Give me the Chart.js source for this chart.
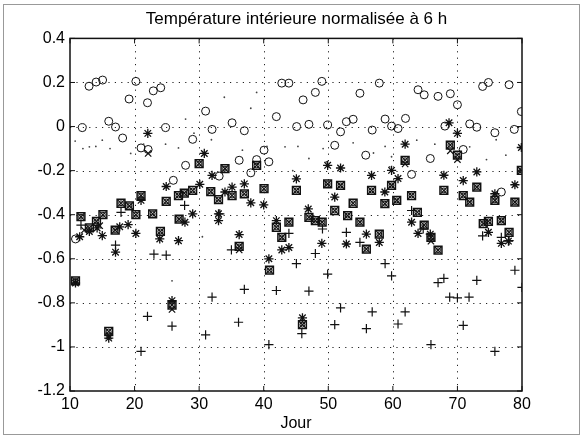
<!DOCTYPE html>
<html>
<head>
<meta charset="utf-8">
<script src="https://cdn.jsdelivr.net/npm/chart.js@4.4.0/dist/chart.umd.min.js"></script>
<style>
  html, body { margin: 0; padding: 0; background: #fff; }
  #wrap { width: 583px; height: 439px; }
</style>
</head>
<body>
<div id="wrap"><canvas id="graphe"></canvas></div>
<script>
const titre = 'Température intérieure normalisée à 6 h';
const titreX = 'Jour';
const ticksX = [10, 20, 30, 40, 50, 60, 70, 80];
const ticksY = [0.4, 0.2, 0, -0.2, -0.4, -0.6, -0.8, -1, -1.2];

// [jour, valeur]
const cercles = [
  [10.85, -0.51], [11.9, -0.005], [12.95, 0.183], [14.05, 0.202], [15.05, 0.211],
  [16.0, 0.024], [17.05, -0.002], [18.15, -0.052], [19.15, 0.125], [20.2, 0.205],
  [21.0, -0.097], [22.0, 0.108], [22.1, -0.104], [22.9, 0.162], [24.05, 0.176],
  [24.8, -0.005], [26.0, -0.244], [27.9, -0.176], [29.0, -0.058], [31.0, 0.07],
  [32.0, -0.013], [33.1, -0.225], [35.1, 0.017], [36.2, -0.153], [37.0, -0.019],
  [38.0, -0.21], [38.9, -0.15], [40.05, -0.107], [40.8, -0.16], [41.96, 0.045],
  [42.8, 0.197], [43.9, 0.197], [45.1, 0.0], [46.1, 0.121], [47.0, 0.01],
  [48.0, 0.155], [49.0, 0.205], [49.9, 0.007], [51.0, -0.085], [51.9, -0.024],
  [52.8, 0.022], [53.85, 0.033], [54.9, 0.151], [55.8, -0.13], [56.8, -0.016],
  [57.9, 0.197], [58.8, 0.034], [59.8, 0.002], [60.8, -0.009], [61.96, 0.037],
  [62.9, -0.217], [63.9, 0.167], [64.85, 0.144], [65.8, -0.145], [67.0, 0.137],
  [68.06, 0.002], [68.9, 0.149], [70.0, 0.099], [70.9, -0.104], [71.9, 0.012],
  [73.0, -0.003], [73.9, 0.182], [74.8, 0.2], [75.8, -0.028], [76.8, -0.297],
  [78.0, 0.19], [78.8, -0.013], [79.9, 0.068]
];

const carres = [
  [10.85, -0.70], [11.7, -0.409], [13.0, -0.46], [14.1, -0.43], [15.1, -0.40],
  [16.0, -0.93], [17.0, -0.47], [17.9, -0.348], [19.2, -0.36], [20.2, -0.40],
  [21.0, -0.313], [22.8, -0.396], [24.0, -0.476], [24.9, -0.34], [25.8, -0.81],
  [26.8, -0.313], [26.9, -0.42], [27.7, -0.302], [29.0, -0.29], [30.0, -0.168],
  [31.8, -0.295], [33.0, -0.332], [34.0, -0.191], [35.1, -0.313], [36.2, -0.544],
  [37.0, -0.305], [38.9, -0.176], [40.05, -0.282], [40.9, -0.652], [41.96, -0.457],
  [42.8, -0.503], [43.9, -0.434], [45.06, -0.29], [46.0, -0.899], [47.0, -0.412],
  [48.0, -0.427], [49.05, -0.434], [49.9, -0.26], [51.0, -0.381], [51.9, -0.267],
  [53.0, -0.404], [53.85, -0.348], [54.9, -0.434], [55.9, -0.556], [56.7, -0.29],
  [57.9, -0.488], [58.76, -0.35], [59.8, -0.267], [60.6, -0.335], [61.9, -0.153],
  [62.9, -0.313], [63.8, -0.389], [64.85, -0.447], [65.9, -0.503], [67.0, -0.561],
  [67.9, -0.29], [68.9, -0.084], [70.0, -0.13], [70.9, -0.313], [71.9, -0.343],
  [73.0, -0.275], [74.0, -0.44], [74.8, -0.43], [75.8, -0.335], [76.8, -0.427],
  [78.0, -0.48], [78.9, -0.343], [79.9, -0.199]
];

const etoiles = [
  [10.85, -0.71], [11.5, -0.5], [13.0, -0.476], [14.2, -0.46], [15.0, -0.495],
  [16.0, -0.96], [17.05, -0.57], [17.7, -0.455], [19.0, -0.445], [20.2, -0.485],
  [21.0, -0.335], [22.05, -0.031], [23.9, -0.51], [24.9, -0.272], [25.8, -0.79],
  [26.8, -0.518], [27.8, -0.434], [29.0, -0.396], [30.1, -0.262], [30.8, -0.122],
  [32.0, -0.222], [33.0, -0.396], [33.0, -0.427], [34.0, -0.297], [35.1, -0.275],
  [36.2, -0.49], [37.0, -0.26], [38.0, -0.346], [40.0, -0.355], [40.8, -0.6],
  [41.96, -0.427], [42.8, -0.56], [43.9, -0.549], [45.06, -0.237], [46.0, -0.868],
  [46.9, -0.374], [49.0, -0.53], [49.9, -0.176], [51.0, -0.32], [51.9, -0.188],
  [52.8, -0.533], [55.9, -0.488], [56.7, -0.222], [57.9, -0.526], [58.76, -0.297],
  [59.8, -0.199], [60.8, -0.236], [61.9, -0.08], [62.9, -0.434], [63.9, -0.485],
  [65.8, -0.488], [67.9, -0.221], [68.7, 0.017], [70.0, -0.031], [70.9, -0.245],
  [73.0, -0.206], [74.8, -0.48], [75.8, -0.305], [76.8, -0.53], [77.9, -0.52],
  [78.9, -0.264], [79.9, -0.095]
];

const plus = [
  [11.7, -0.447], [17.05, -0.538], [17.9, -0.389], [21.0, -1.02], [22.0, -0.861],
  [23.0, -0.579], [24.9, -0.583], [25.8, -0.906], [27.75, -0.358], [31.0, -0.945],
  [32.0, -0.774], [33.2, -0.396], [35.0, -0.56], [36.1, -0.888], [37.0, -0.739],
  [40.8, -0.99], [41.96, -0.744], [43.9, -0.485], [45.06, -0.622], [45.9, -0.94],
  [47.0, -0.747], [48.0, -0.576], [49.1, -0.465], [49.9, -0.67], [51.0, -0.899],
  [51.9, -0.823], [52.8, -0.48], [54.9, -0.526], [55.9, -0.917], [56.8, -0.841],
  [58.8, -0.622], [59.8, -0.678], [60.8, -0.896], [61.9, -0.841], [62.9, -0.381],
  [64.7, -0.465], [65.9, -0.99], [67.0, -0.708], [67.9, -0.689], [68.8, -0.774],
  [70.0, -0.777], [70.9, -0.902], [71.8, -0.774], [73.0, -0.698], [73.9, -0.496],
  [75.8, -1.02], [76.8, -0.503], [78.0, -0.518], [78.9, -0.652], [80.0, -0.73]
];

const croix = [
  [12.2, -0.47], [14.6, -0.45], [22.1, -0.122], [61.9, -0.17], [65.9, -0.52],
  [68.9, -0.11], [70.0, -0.15], [36.2, -0.56], [25.8, -0.83], [16.0, -0.95]
];

const pointsFins = [
  [10.8, -0.066], [12.0, -0.1], [13.0, -0.092], [14.0, -0.09], [15.0, -0.062],
  [16.2, -0.1], [19.4, -0.122], [21.4, -0.08], [24.8, -0.08], [26.8, -0.097],
  [27.9, 0.034], [29.2, -0.03], [31.9, -0.06], [33.9, 0.133], [36.7, -0.107],
  [38.0, 0.083], [38.9, 0.155], [40.5, -0.09], [25.8, -0.7], [43.3, -0.092],
  [45.3, -0.09], [47.0, -0.145], [49.2, -0.1], [49.7, -0.16], [53.85, -0.074],
  [58.8, -0.09], [59.8, -0.137], [59.5, -0.183], [63.7, -0.062], [66.5, -0.08],
  [69.5, -0.03], [71.9, -0.092], [74.5, -0.15], [77.5, -0.13], [30.5, -0.5],
  [44.5, -0.2], [57.0, -0.12], [76.0, -0.06]
];

const enPoints = arr => arr.map(p => ({ x: p[0], y: p[1] }));
const noir = '#111';

// grille pointillée, cadre et graduations façon Matlab
function dessineCadre(chart) {
  const ctx = chart.ctx;
  const a = chart.chartArea;
  const sx = chart.scales.x;
  const sy = chart.scales.y;
  ctx.save();
  ctx.strokeStyle = '#222';
  ctx.lineWidth = 1;
  ctx.setLineDash([1.2, 5.2]);
  for (let i = 1; i < ticksX.length - 1; i++) {
    const x = Math.round(sx.getPixelForValue(ticksX[i])) + 0.5;
    ctx.beginPath(); ctx.moveTo(x, a.top); ctx.lineTo(x, a.bottom); ctx.stroke();
  }
  for (let i = 1; i < ticksY.length - 1; i++) {
    const y = Math.round(sy.getPixelForValue(ticksY[i])) + 0.5;
    ctx.beginPath(); ctx.moveTo(a.left, y); ctx.lineTo(a.right, y); ctx.stroke();
  }
  ctx.setLineDash([]);
  ctx.strokeStyle = noir;
  ctx.lineWidth = 1.5;
  ctx.strokeRect(a.left, a.top, a.right - a.left, a.bottom - a.top);
  ctx.lineWidth = 1;
  ticksX.forEach(t => {
    const x = sx.getPixelForValue(t);
    ctx.beginPath();
    ctx.moveTo(x, a.bottom); ctx.lineTo(x, a.bottom - 5);
    ctx.moveTo(x, a.top); ctx.lineTo(x, a.top + 5);
    ctx.stroke();
  });
  ticksY.forEach(t => {
    const y = sy.getPixelForValue(t);
    ctx.beginPath();
    ctx.moveTo(a.left, y); ctx.lineTo(a.left + 5, y);
    ctx.moveTo(a.right, y); ctx.lineTo(a.right - 5, y);
    ctx.stroke();
  });
  ctx.restore();
}

const cadrePlugin = {
  id: 'cadre',
  beforeDraw(chart) {
    dessineCadre(chart);
  },
  afterDraw(chart) {
    const ctx = chart.ctx;
    ctx.save();
    ctx.strokeStyle = '#999';
    ctx.lineWidth = 1;
    ctx.strokeRect(3.5, 4.5, 576, 430);
    ctx.restore();
  }
};

const police = "'Liberation Sans', Arial, Helvetica, sans-serif";
const vide = 'rgba(0,0,0,0)';

new Chart(document.getElementById('graphe'), {
  type: 'scatter',
  data: {
    datasets: [
      { data: enPoints(pointsFins), pointStyle: 'circle', pointRadius: 0.9, backgroundColor: '#444', borderWidth: 0 },
      { data: enPoints(cercles), pointStyle: 'circle', pointRadius: 4, borderColor: noir, backgroundColor: vide, borderWidth: 1 },
      { data: enPoints(carres), pointStyle: 'rect', pointRadius: 5.5, borderColor: noir, backgroundColor: vide, borderWidth: 1.5 },
      { data: enPoints(carres), pointStyle: 'circle', pointRadius: 2.4, borderColor: noir, backgroundColor: vide, borderWidth: 1 },
      { data: enPoints(carres), pointStyle: 'crossRot', pointRadius: 4.8, borderColor: noir, borderWidth: 1.2 },
      { data: enPoints(croix), pointStyle: 'crossRot', pointRadius: 4.5, borderColor: noir, borderWidth: 1.2 },
      { data: enPoints(etoiles), pointStyle: 'star', pointRadius: 4.6, borderColor: noir, borderWidth: 1.3 },
      { data: enPoints(plus), pointStyle: 'cross', pointRadius: 4.6, borderColor: noir, borderWidth: 1.2 }
    ]
  },
  options: {
    responsive: true,
    maintainAspectRatio: false,
    animation: false,
    events: [],
    layout: { padding: { left: 10, right: 0, top: 0, bottom: 0 } },
    plugins: {
      legend: { display: false },
      tooltip: { enabled: false },
      title: {
        display: true,
        text: titre,
        color: '#000',
        font: { family: police, size: 17, weight: 'normal' },
        padding: { top: 9, bottom: 9 }
      }
    },
    scales: {
      x: {
        type: 'linear',
        min: 10, max: 80,
        afterBuildTicks: s => { s.ticks = ticksX.map(v => ({ value: v })); },
        afterFit: s => { s.height = 48; },
        grid: { display: false, drawTicks: false },
        border: { display: false },
        ticks: { color: '#000', padding: 4, maxRotation: 0, font: { family: police, size: 16 } },
        title: { display: true, text: titreX, color: '#000', font: { family: police, size: 16 }, padding: { top: 0, bottom: 6 } }
      },
      y: {
        type: 'linear',
        min: -1.2, max: 0.4,
        afterBuildTicks: s => { s.ticks = ticksY.map(v => ({ value: v })); },
        afterFit: s => { s.width = 60; },
        grid: { display: false, drawTicks: false },
        border: { display: false },
        ticks: {
          color: '#000', padding: 5,
          font: { family: police, size: 16 },
          callback: v => String(Math.round(v * 10) / 10)
        }
      },
      yDroite: {
        type: 'linear',
        position: 'right',
        display: true,
        min: -1.2, max: 0.4,
        afterFit: s => { s.width = 61; },
        grid: { display: false, drawTicks: false },
        border: { display: false },
        ticks: { display: false }
      }
    }
  },
  plugins: [cadrePlugin]
});
</script>
</body>
</html>
